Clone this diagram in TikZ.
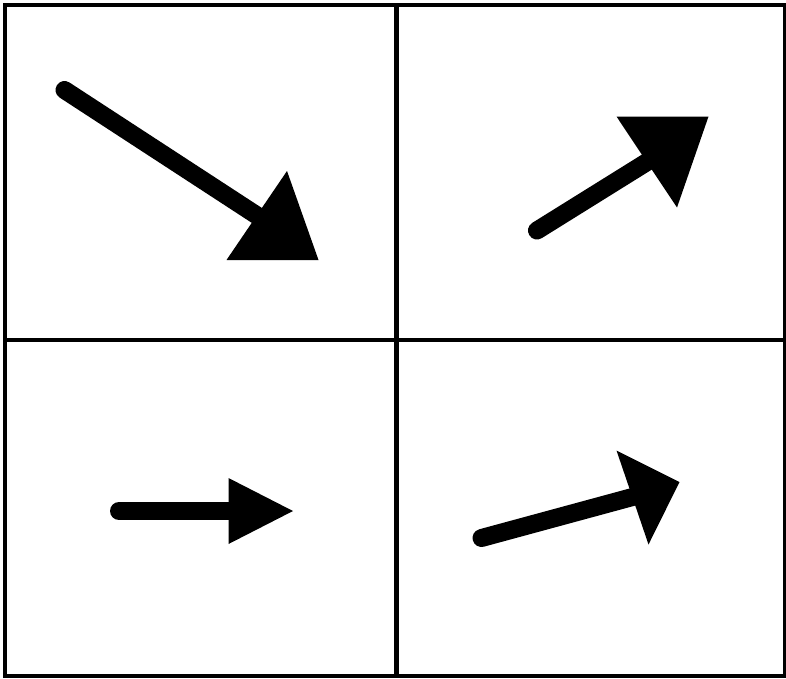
\documentclass[tikz,border=0pt]{standalone}
\begin{document}
\begin{tikzpicture}[x=1pt,y=-1pt,
  frame/.style={line width=4.6pt, line cap=rect},
  shaft/.style={line width=18pt, line cap=round},
  head/.style={fill=black, draw=none}]
\useasboundingbox (0,0) rectangle (786,678);
\fill[white] (0,0) rectangle (786,678);
% frame and dividers
\coordinate (tl) at (5,5);
\coordinate (br) at (785.5,676);
\coordinate (vt) at (396.3,5);
\coordinate (vb) at (396.3,676);
\coordinate (hl) at (5,339.8);
\coordinate (hr) at (785.5,339.8);
\draw[frame] (tl) rectangle (br);
\draw[frame] (vt) -- (vb);
\draw[frame] (hl) -- (hr);
% arrow 1 (top left)
\coordinate (a1s) at (64.5,90);
\coordinate (a1b) at (257,215.5);
\coordinate (a1p) at (287,171);
\coordinate (a1t) at (318.5,260);
\coordinate (a1q) at (226.5,260);
\draw[shaft] (a1s) -- (a1b);
\fill[head] (a1p) -- (a1t) -- (a1q) -- cycle;
% arrow 2 (top right)
\coordinate (a2s) at (537,230.5);
\coordinate (a2b) at (647,162);
\coordinate (a2p) at (616.5,116.5);
\coordinate (a2t) at (708.5,116.5);
\coordinate (a2q) at (677,207.5);
\draw[shaft] (a2s) -- (a2b);
\fill[head] (a2p) -- (a2t) -- (a2q) -- cycle;
% arrow 3 (bottom left)
\coordinate (a3s) at (119,511);
\coordinate (a3b) at (228.5,511);
\coordinate (a3p) at (228.5,478);
\coordinate (a3t) at (293,511);
\coordinate (a3q) at (228.5,544);
\draw[shaft] (a3s) -- (a3b);
\fill[head] (a3p) -- (a3t) -- (a3q) -- cycle;
% arrow 4 (bottom right)
\coordinate (a4s) at (481.5,538);
\coordinate (a4b) at (632.5,497);
\coordinate (a4p) at (616.5,450.5);
\coordinate (a4t) at (679.5,482);
\coordinate (a4q) at (648.5,544.5);
\draw[shaft] (a4s) -- (a4b);
\fill[head] (a4p) -- (a4t) -- (a4q) -- cycle;
\end{tikzpicture}
\end{document}
